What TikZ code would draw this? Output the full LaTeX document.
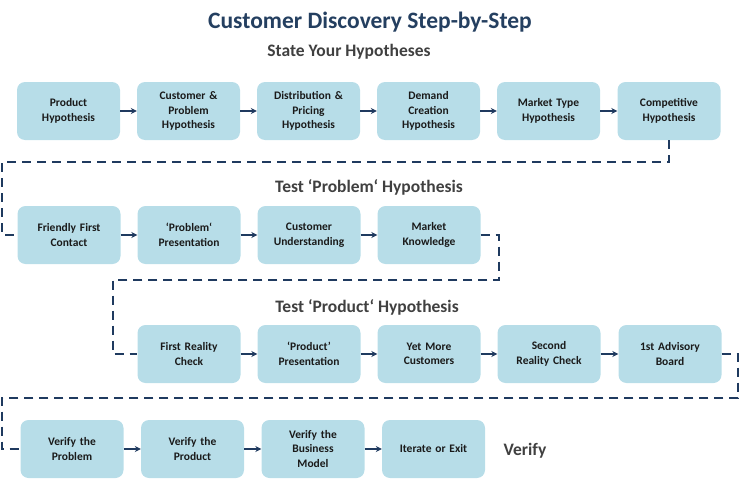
\documentclass[tikz,border=0pt]{standalone}
\usepackage{fontspec}
\setmainfont{Carlito}
\usetikzlibrary{arrows.meta}
\definecolor{boxfill}{HTML}{B7DDE8}
\definecolor{navy}{HTML}{1F3A5F}
\definecolor{titlecol}{HTML}{243F60}
\definecolor{headgray}{HTML}{404040}
\definecolor{boxtext}{HTML}{1A1A1A}
\tikzset{
  stepbox/.style={fill=boxfill, draw=none, rounded corners=8pt, minimum width=103pt, minimum height=58pt,
    inner sep=2pt, align=center, text width=99pt, font=\fontsize{11.5}{14.5}\selectfont\bfseries, text=boxtext},
  flow/.style={draw=navy, line width=1.8pt, -{Stealth[length=6pt,width=6pt]}},
  loopline/.style={draw=navy, line width=2pt, dash pattern=on 9pt off 6pt},
  heading/.style={font=\fontsize{17.5}{20}\selectfont\bfseries, text=headgray},
}
\begin{document}
\begin{tikzpicture}[x=1pt,y=-1pt]
\useasboundingbox (0,0) rectangle (740,479);
\node[font=\fontsize{23.5}{26}\selectfont\bfseries, text=titlecol] (title) at (370,22) {Customer Discovery Step-by-Step};
\node[heading] (h1) at (349,52) {State Your Hypotheses};
\node[heading] (h2) at (369,187) {Test ‘Problem‘ Hypothesis};
\node[heading] (h3) at (367,307) {Test ‘Product‘ Hypothesis};
\node[heading] (h4) at (525,451) {Verify};
% row 1
\node[stepbox] (a1) at (68.5,111) {Product\\Hypothesis};
\node[stepbox] (a2) at (188.5,111) {Customer \&\\Problem\\Hypothesis};
\node[stepbox] (a3) at (308.5,111) {Distribution \&\\Pricing\\Hypothesis};
\node[stepbox] (a4) at (428.5,111) {Demand\\Creation\\Hypothesis};
\node[stepbox] (a5) at (548.5,111) {Market Type\\Hypothesis};
\node[stepbox] (a6) at (669,111) {Competitive\\Hypothesis};
% row 2
\node[stepbox] (b1) at (69,235) {Friendly First\\Contact};
\node[stepbox] (b2) at (189,235) {‘Problem‘\\Presentation};
\node[stepbox] (b3) at (309,235) {Customer\\Understanding};
\node[stepbox] (b4) at (429,235) {Market\\Knowledge};
% row 3
\node[stepbox] (c1) at (189,354) {First Reality\\Check};
\node[stepbox] (c2) at (309,354) {‘Product’\\Presentation};
\node[stepbox] (c3) at (429,354) {Yet More\\Customers};
\node[stepbox] (c4) at (549,354) {Second\\Reality Check};
\node[stepbox] (c5) at (670,354) {1st Advisory\\Board};
% row 4
\node[stepbox] (d1) at (72,449) {Verify the\\Problem};
\node[stepbox] (d2) at (192.5,449) {Verify the\\Product};
\node[stepbox] (d3) at (313,449) {Verify the\\Business\\Model};
\node[stepbox] (d4) at (433.5,449) {Iterate or Exit};
% arrows
\foreach \p/\q in {a1/a2,a2/a3,a3/a4,a4/a5,a5/a6,b1/b2,b2/b3,b3/b4,c1/c2,c2/c3,c3/c4,c4/c5,d1/d2,d2/d3,d3/d4}
  \draw[flow] (\p.east) -- (\q.west);
% dashed loops
\coordinate (k1) at (669,162);
\coordinate (k2) at (2,162);
\coordinate (k3) at (2,235);
\draw[loopline] (a6.south) -- (k1) -- (k2) -- (k3) -- (b1.west);
\coordinate (m1) at (499,235);
\coordinate (m2) at (499,280);
\coordinate (m3) at (113,280);
\coordinate (m4) at (113,354);
\draw[loopline] (b4.east) -- (m1) -- (m2) -- (m3) -- (m4) -- (c1.west);
\coordinate (n1) at (738,354);
\coordinate (n2) at (738,398);
\coordinate (n3) at (2,398);
\coordinate (n4) at (2,449);
\draw[loopline] (c5.east) -- (n1) -- (n2) -- (n3) -- (n4) -- (d1.west);
\end{tikzpicture}
\end{document}
